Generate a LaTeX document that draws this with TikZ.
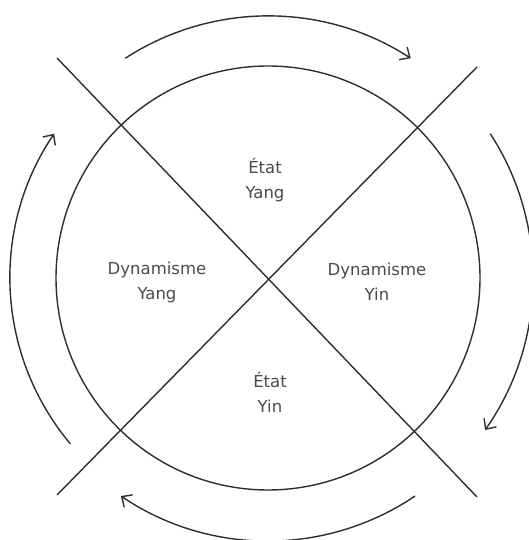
\documentclass[tikz,border=0pt]{standalone}
\usepackage{fontspec}
\setmainfont{DejaVu Sans}
\usetikzlibrary{arrows.meta}
\definecolor{ink}{HTML}{2E2E2E}
\definecolor{txt}{HTML}{4A4A4A}
\tikzset{
  stroke/.style={draw=ink, line width=1.4pt},
  flow/.style={stroke, -{Straight Barb[length=8pt,width=15pt,line width=1.4pt]}},
  lab/.style={text=txt, align=center, font=\fontsize{16.5}{25}\selectfont, inner sep=0pt}
}
\begin{document}
\begin{tikzpicture}[x=1pt,y=1pt]
\useasboundingbox (0,0) rectangle (528,540);
\coordinate (c) at (268,262);
\coordinate (a1) at (57,482);
\coordinate (a2) at (477,43);
\coordinate (b1) at (477,473);
\coordinate (b2) at (57,45);
\draw[stroke] (c) circle[radius=212];
\draw[stroke] (a1) -- (a2);
\draw[stroke] (b1) -- (b2);
\draw[flow] ([shift={(123:262)}]c) arc[start angle=123, end angle=57, radius=262];
\draw[flow] ([shift={(33:265)}]c) arc[start angle=33, end angle=-35, radius=265];
\draw[flow] ([shift={(-56:263)}]c) arc[start angle=-56, end angle=-124, radius=263];
\draw[flow] ([shift={(220:258)}]c) arc[start angle=220, end angle=146, radius=258];
\node[lab] (ey) at (265,360) {État\\Yang};
\node[lab] (ei) at (270,148) {État\\Yin};
\node[lab] (dy) at (157,258) {Dynamisme\\Yang};
\node[lab] (di) at (377,258) {Dynamisme\\Yin};
\end{tikzpicture}
\end{document}
